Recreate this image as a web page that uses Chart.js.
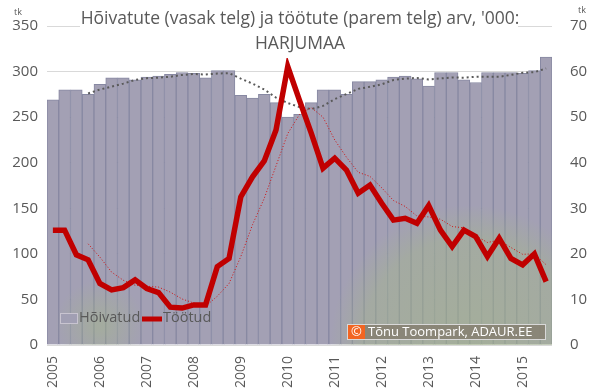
<!DOCTYPE html>
<html>
<head>
<meta charset="utf-8">
<script src="https://cdn.jsdelivr.net/npm/chart.js@4"></script>
<style>
  html, body { margin: 0; padding: 0; background: #ffffff; }
  #wrap { width: 600px; height: 392px; position: relative; }
</style>
</head>
<body>
<div id="wrap"><canvas id="barChart" width="600" height="392"></canvas></div>
<script>
// kvartalid 2005 I - 2015 III
var aastad = ['2005','2006','2007','2008','2009','2010','2011','2012','2013','2014','2015'];
var kvartalid = [];
for (var a = 0; a < aastad.length; a++) {
    for (var q = 1; q <= 4; q++) kvartalid.push(aastad[a] + ' ' + q);
}
kvartalid = kvartalid.slice(0, 43);

// hõivatud, tuhat (vasak telg)
var hoivatud = [269, 280, 280, 275, 286, 293, 293, 291, 294, 295, 297, 299, 298, 293, 301, 301,
                274, 271, 275, 266, 250, 253, 266, 280, 280, 275, 289, 289, 291, 294, 295, 292,
                284, 299, 299, 291, 288, 299, 299, 299, 298, 301, 316];
// hõivatud, libisev keskmine
var hoivatudKesk = [null, null, null, 276, 280.3, 283.5, 286.8, 290.8, 292.8, 293.3, 294.3, 296.3, 297.3, 296.8, 297.8, 298.3,
                    292.3, 286.8, 280.3, 271.5, 265.5, 261, 258.8, 262.3, 269.8, 275.3, 281, 283.3, 286, 290.8, 292.3, 293,
                    291.3, 292.5, 293.5, 293.3, 294.3, 294.3, 294.3, 296.3, 298.8, 299.3, 303.5];
// töötud, tuhat (parem telg)
var tootud = [25.2, 25.2, 19.8, 18.7, 13.5, 12.1, 12.6, 14.3, 12.4, 11.5, 8.3, 8.1, 8.8, 8.8, 17.2, 19.0,
              32.5, 36.9, 40.4, 47.2, 61.1, 53.7, 46.5, 38.8, 41.0, 38.4, 33.3, 35.1, 31.1, 27.4, 27.8, 26.7,
              30.6, 25.2, 21.6, 25.2, 23.8, 19.4, 23.4, 19.0, 17.6, 20.0, 13.9];
// töötud, libisev keskmine
var tootudKesk = [null, null, null, 22.2, 19.3, 16.0, 14.2, 13.1, 12.9, 12.7, 11.6, 10.1, 9.2, 8.5, 10.7, 13.5,
                  19.4, 26.4, 32.2, 39.3, 46.4, 50.6, 52.1, 50.0, 45.0, 41.2, 37.9, 37.0, 34.5, 31.7, 30.4, 28.3,
                  28.1, 27.6, 26.0, 25.7, 24.0, 22.5, 23.0, 21.4, 19.9, 20.0, 17.6];

var halltekst = '#595959';
var font = "'Open Sans', 'Noto Sans', sans-serif";

// taust, pealkiri, legend ja autoriõigus
var joonised = {
    id: 'joonised',
    afterDatasetDraw: function(chart, args) {
        if (args.index !== 0) return;
        var ctx = chart.ctx, ca = chart.chartArea;
        ctx.save();
        ctx.beginPath();
        ctx.rect(ca.left, ca.top, ca.right - ca.left, ca.bottom - ca.top);
        ctx.clip();
        var g = ctx.createRadialGradient(470, 345, 10, 470, 345, 140);
        g.addColorStop(0, 'rgba(165,185,135,0.55)');
        g.addColorStop(0.75, 'rgba(165,185,135,0.40)');
        g.addColorStop(1, 'rgba(165,185,135,0)');
        ctx.fillStyle = g;
        ctx.fillRect(ca.left, ca.top, ca.right - ca.left, ca.bottom - ca.top);
        var g2 = ctx.createRadialGradient(100, 325, 5, 100, 325, 45);
        g2.addColorStop(0, 'rgba(165,185,135,0.45)');
        g2.addColorStop(1, 'rgba(165,185,135,0)');
        ctx.fillStyle = g2;
        ctx.fillRect(ca.left, ca.top, ca.right - ca.left, ca.bottom - ca.top);
        ctx.restore();
    },
    afterDraw: function(chart) {
        var ctx = chart.ctx;
        ctx.save();
        // pealkiri
        ctx.fillStyle = '#ffffff';
        ctx.fillRect(80, 2, 438, 56);
        ctx.fillStyle = halltekst;
        ctx.font = "17.5px " + font;
        ctx.textAlign = 'center';
        ctx.textBaseline = 'middle';
        ctx.fillText("Hõivatute (vasak telg) ja töötute (parem telg) arv, '000:", 300, 19);
        ctx.fillText('HARJUMAA', 300, 44);
        // tk
        ctx.font = "9px " + font;
        ctx.fillText('tk', 18, 12);
        ctx.fillText('tk', 582, 10);
        // legend
        ctx.fillStyle = '#a19fb3';
        ctx.strokeStyle = '#c8c4d0';
        ctx.lineWidth = 1;
        ctx.fillRect(60.5, 313.5, 17, 10);
        ctx.strokeRect(60.5, 313.5, 17, 10);
        ctx.fillStyle = halltekst;
        ctx.font = "14.5px " + font;
        ctx.textAlign = 'left';
        ctx.fillText('Hõivatud', 79, 318);
        ctx.strokeStyle = '#c00000';
        ctx.lineWidth = 5;
        ctx.beginPath();
        ctx.moveTo(142, 319);
        ctx.lineTo(162, 319);
        ctx.stroke();
        ctx.fillText('Töötud', 163, 318);
        // autoriõigus
        ctx.fillStyle = 'rgba(135,130,115,0.9)';
        ctx.fillRect(347, 324, 199, 16);
        ctx.strokeStyle = '#d8d8d8';
        ctx.lineWidth = 1;
        ctx.strokeRect(347.5, 324.5, 198, 15);
        ctx.fillStyle = '#f26522';
        ctx.fillRect(348, 325, 17, 14);
        ctx.fillStyle = '#ffffff';
        ctx.font = "13px " + font;
        ctx.textAlign = 'center';
        ctx.fillText('©', 356.5, 332);
        ctx.textAlign = 'left';
        ctx.fillText('Tõnu Toompark, ADAUR.EE', 368, 332);
        ctx.restore();
    }
};

var ctx = document.getElementById('barChart').getContext('2d');

var barChart = new Chart(ctx, {
    type: 'bar',
    data: {
        labels: kvartalid,
        datasets: [
            {
                label: 'Hõivatud',
                data: hoivatud,
                yAxisID: 'y',
                backgroundColor: '#a3a0b4',
                borderColor: '#8788a2',
                borderWidth: 1,
                categoryPercentage: 1.0,
                barPercentage: 1.0,
                order: 4
            },
            {
                type: 'line',
                label: 'Hõivatud kesk',
                data: hoivatudKesk,
                yAxisID: 'y',
                borderColor: '#5a5a5a',
                borderWidth: 2,
                borderDash: [2, 3],
                pointRadius: 0,
                fill: false,
                order: 3
            },
            {
                type: 'line',
                label: 'Töötud kesk',
                data: tootudKesk,
                yAxisID: 'y2',
                borderColor: '#d01010',
                borderWidth: 1,
                borderDash: [1, 2],
                pointRadius: 0,
                fill: false,
                order: 2
            },
            {
                type: 'line',
                label: 'Töötud',
                data: tootud,
                yAxisID: 'y2',
                borderColor: '#c00000',
                borderWidth: 5.5,
                pointRadius: 0,
                fill: false,
                order: 1
            }
        ]
    },
    options: {
        responsive: false,
        animation: false,
        layout: { padding: { top: 26, left: 0, right: 0, bottom: 0 } },
        plugins: {
            legend: { display: false },
            title: { display: false },
            tooltip: { enabled: false }
        },
        scales: {
            x: {
                offset: true,
                grid: { display: false },
                border: { display: false },
                afterFit: function(s) { s.height = 47; },
                ticks: {
                    autoSkip: false,
                    maxRotation: 90,
                    minRotation: 90,
                    color: halltekst,
                    font: { family: font, size: 14 },
                    padding: 3,
                    callback: function(v, i) { return i % 4 === 0 ? aastad[i / 4] : ''; }
                }
            },
            y: {
                position: 'left',
                min: 0,
                max: 350,
                afterFit: function(s) { s.width = 47; },
                grid: {
                    color: '#d9d9d9',
                    drawTicks: false
                },
                border: { display: false },
                ticks: {
                    stepSize: 50,
                    color: halltekst,
                    font: { family: font, size: 15 },
                    padding: 9
                }
            },
            y2: {
                position: 'right',
                min: 0,
                max: 70,
                afterFit: function(s) { s.width = 48; },
                grid: { display: false },
                border: { display: false },
                ticks: {
                    stepSize: 10,
                    color: halltekst,
                    font: { family: font, size: 15 },
                    padding: 10
                }
            }
        }
    },
    plugins: [joonised]
});
</script>
</body>
</html>
